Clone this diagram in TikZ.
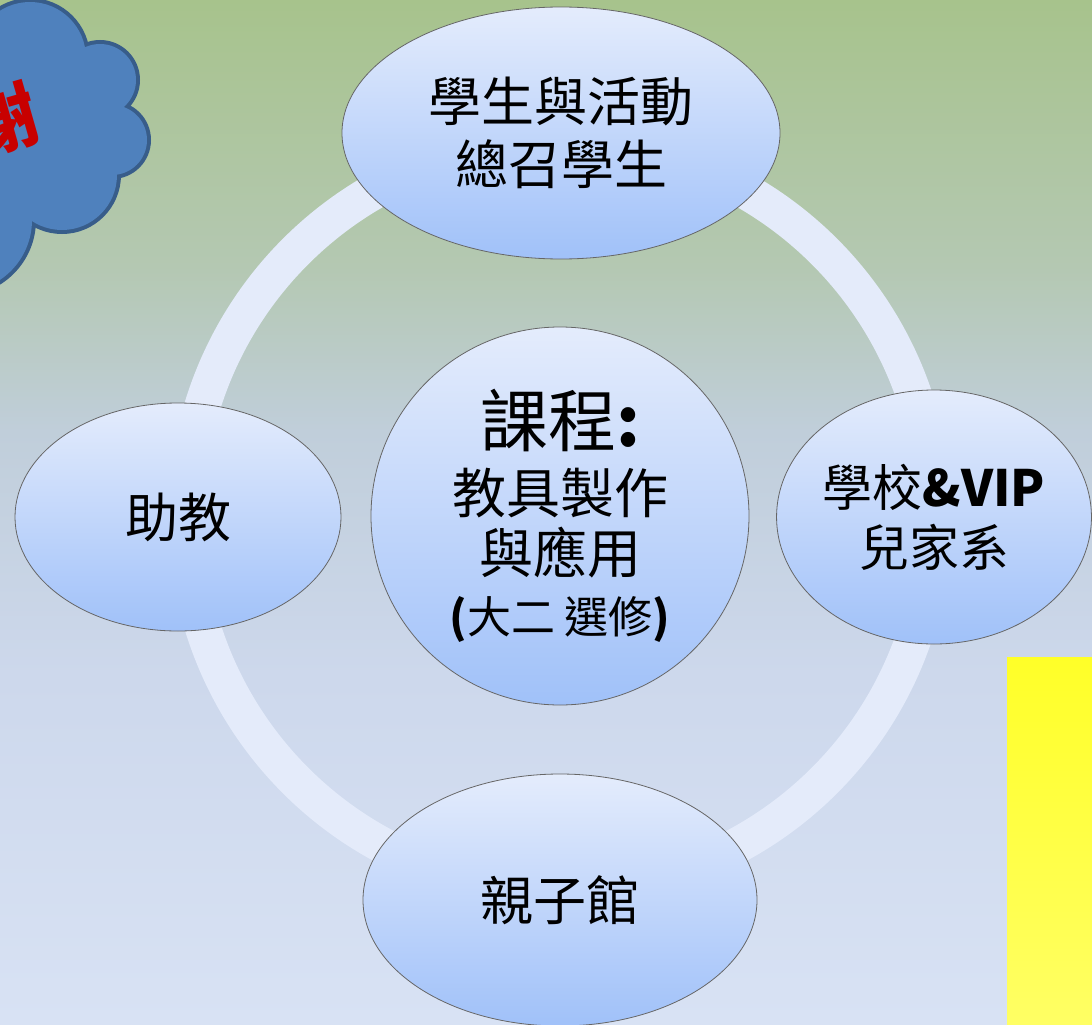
\documentclass[tikz,border=0pt]{standalone}
\usepackage{fontspec}
\newfontfamily\cjk{Noto Sans CJK TC}
\usetikzlibrary{shapes.geometric,positioning}
\definecolor{bgtop}{RGB}{167,195,140}
\definecolor{bgtwo}{RGB}{180,200,178}
\definecolor{bgthree}{RGB}{192,206,218}
\definecolor{bgfour}{RGB}{205,216,236}
\definecolor{bgbot}{RGB}{216,226,244}
\definecolor{ringcol}{RGB}{228,235,250}
\definecolor{elltop}{RGB}{228,236,252}
\definecolor{ellbot}{RGB}{160,193,249}
\definecolor{cloudfill}{RGB}{79,129,189}
\definecolor{cloudline}{RGB}{56,93,138}
\definecolor{thxred}{RGB}{200,0,0}
\definecolor{ylwtop}{RGB}{255,255,40}
\definecolor{ylwbot}{RGB}{255,255,100}
\pgfdeclareverticalshading{backdrop}{100bp}{color(0bp)=(bgbot); color(25bp)=(bgbot);
  color(42bp)=(bgfour); color(54bp)=(bgthree); color(62bp)=(bgtwo); color(75bp)=(bgtop); color(100bp)=(bgtop)}

\begin{document}
\begin{tikzpicture}[x=1pt,y=-1pt,
  bubble/.style={ellipse,draw=black!60,line width=0.8pt,top color=elltop,bottom color=ellbot,
    inner sep=0pt,align=center,font=\cjk\fontsize{53}{63}\selectfont}]
\useasboundingbox (0,0) rectangle (1092,1025);
\clip (0,0) rectangle (1092,1025);
\shade[shading=backdrop] (0,0) rectangle (1092,1025);
% ring behind the bubbles
\coordinate (O) at (560,516);
\draw[ringcol,line width=36pt] (O) circle[radius=374];
% cloud in the corner
\foreach \cx/\cy/\r in {30/58/56,100/80/36,112/140/35,62/175/55,-40/220/72}
  \draw[cloudline,line width=8pt] (\cx,\cy) circle[radius=\r];
\foreach \cx/\cy/\r in {30/58/56,100/80/36,112/140/35,62/175/55,-40/220/72}
  \fill[cloudfill] (\cx,\cy) circle[radius=\r];
\fill[cloudfill] (-100,30) -- (30,20) -- (85,52) -- (103,115) -- (103,175) -- (30,218) -- (-100,260) -- cycle;
\node[text=thxred,font=\cjk\bfseries\fontsize{72}{72}\selectfont,rotate=16] (thanks) at (2,120) {謝};
% bubbles
\node[bubble,minimum width=438pt,minimum height=252pt] (students) at (561,133) {學生與活動\\總召學生};
\node[bubble,minimum width=326pt,minimum height=228pt] (assist) at (178,517) {助教};
\node[bubble,minimum width=314pt,minimum height=254pt,font=\cjk\fontsize{50}{60}\selectfont] (school) at (934,517) {學校{\bfseries\&VIP}\\兒家系};
\node[bubble,minimum width=394pt,minimum height=252pt] (parents) at (560,900) {親子館};
\node[bubble,minimum size=378pt,font=\cjk\fontsize{54}{60}\selectfont] (course) at (O)
  {{\fontsize{68}{68}\selectfont 課程{\bfseries:}}\\[7pt]教具製作\\與應用\\{\fontsize{44}{44}\selectfont\bfseries(\mdseries 大二 選修\bfseries)}};
% yellow box
\shade[top color=ylwtop,bottom color=ylwbot] (1007,657) rectangle (1092,1025);
\end{tikzpicture}
\end{document}
